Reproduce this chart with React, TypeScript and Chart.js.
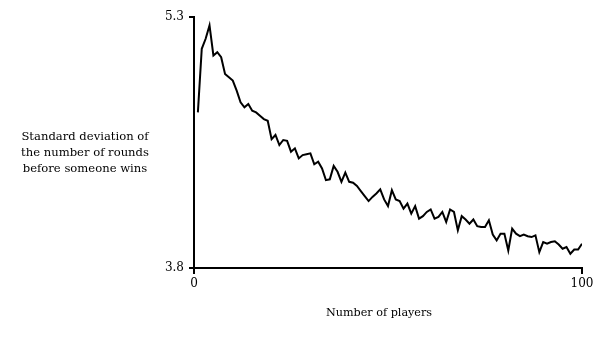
import React, { useEffect, useRef } from "react";
import { Chart, registerables } from "chart.js";

Chart.register(...registerables);

const players: number[] = Array.from({ length: 100 }, (_, i) => i + 1);

const stdDevRounds: number[] = [
  4.73, 5.11, 5.17, 5.25, 5.07, 5.09, 5.06, 4.96, 4.94, 4.92,
  4.86, 4.79, 4.76, 4.78, 4.74, 4.73, 4.71, 4.69, 4.68, 4.57,
  4.595, 4.535, 4.565, 4.56, 4.495, 4.515, 4.455, 4.475, 4.48, 4.485,
  4.42, 4.435, 4.395, 4.325, 4.33, 4.41, 4.375, 4.315, 4.37, 4.315,
  4.31, 4.29, 4.26, 4.23, 4.2, 4.225, 4.245, 4.27, 4.21, 4.17,
  4.265, 4.21, 4.2, 4.155, 4.185, 4.125, 4.17, 4.095, 4.11, 4.135,
  4.15, 4.095, 4.105, 4.135, 4.075, 4.15, 4.135, 4.025, 4.11, 4.09,
  4.065, 4.09, 4.05, 4.045, 4.045, 4.085, 4.0, 3.965, 4.005, 4.005,
  3.905, 4.035, 4.005, 3.99, 4.0, 3.99, 3.985, 3.995, 3.895, 3.955,
  3.945, 3.955, 3.96, 3.94, 3.915, 3.925, 3.885, 3.91, 3.91, 3.945,
];

const xTickValues: number[] = [0, 100];
const yTickValues: number[] = [3.8, 5.3];
const yTitleLines: string[] = [
  "Standard deviation of",
  "the number of rounds",
  "before someone wins",
];
const xTitle = "Number of players";

const FONT = '"DejaVu Serif", serif';

const titlesPlugin = {
  id: "customTitles",
  afterDraw(chart: any) {
    const ctx = chart.ctx;
    const area = chart.chartArea;
    ctx.save();
    ctx.fillStyle = "#000";
    ctx.textAlign = "center";
    ctx.textBaseline = "middle";
    ctx.font = `11.6px ${FONT}`;
    const cx = area.left - 109;
    const cy = (area.top + area.bottom) / 2 + 10;
    yTitleLines.forEach((line, i) => {
      ctx.fillText(line, cx, cy - 16 + i * 16);
    });
    ctx.font = `11.2px ${FONT}`;
    ctx.fillText(xTitle, area.left + 185, area.bottom + 45);
    ctx.restore();
  },
};

export default function App() {
  const canvasRef = useRef<HTMLCanvasElement | null>(null);

  useEffect(() => {
    if (!canvasRef.current) return;
    const chart = new Chart(canvasRef.current, {
      type: "line",
      data: {
        datasets: [
          {
            data: players.map((p, i) => ({ x: p, y: stdDevRounds[i] })),
            borderColor: "#000",
            borderWidth: 2,
            pointRadius: 0,
            tension: 0,
            fill: false,
          },
        ],
      },
      options: {
        animation: false,
        responsive: false,
        devicePixelRatio: 1,
        layout: { padding: { left: 150, right: 23, top: 17, bottom: 0 } },
        plugins: {
          legend: { display: false },
          tooltip: { enabled: false },
        },
        scales: {
          x: {
            type: "linear",
            min: 0,
            max: 100,
            afterBuildTicks: (scale: any) => {
              scale.ticks = xTickValues.map((v) => ({ value: v }));
            },
            afterFit: (scale: any) => {
              scale.height = 72;
            },
            ticks: {
              color: "#000",
              font: { family: FONT, size: 12 },
              padding: 3,
              maxRotation: 0,
              callback: (v: any) => String(v),
            },
            grid: {
              drawOnChartArea: false,
              drawTicks: true,
              tickLength: 6,
              color: "#000",
              lineWidth: 2,
            },
            border: { display: true, color: "#000", width: 2 },
          },
          y: {
            type: "linear",
            min: 3.8,
            max: 5.3,
            afterBuildTicks: (scale: any) => {
              scale.ticks = yTickValues.map((v) => ({ value: v }));
            },
            afterFit: (scale: any) => {
              scale.width = 44;
            },
            ticks: {
              color: "#000",
              font: { family: FONT, size: 12 },
              padding: 5,
              callback: (v: any) => Number(v).toFixed(1),
            },
            grid: {
              drawOnChartArea: false,
              drawTicks: true,
              tickLength: 5,
              color: "#000",
              lineWidth: 2,
            },
            border: { display: true, color: "#000", width: 2 },
          },
        },
      },
      plugins: [titlesPlugin],
    });
    return () => chart.destroy();
  }, []);

  return (
    <div style={{ position: "absolute", left: 0, top: 0, width: 605, height: 340, background: "#fff" }}>
      <canvas ref={canvasRef} width={605} height={340} style={{ display: "block" }} />
    </div>
  );
}
